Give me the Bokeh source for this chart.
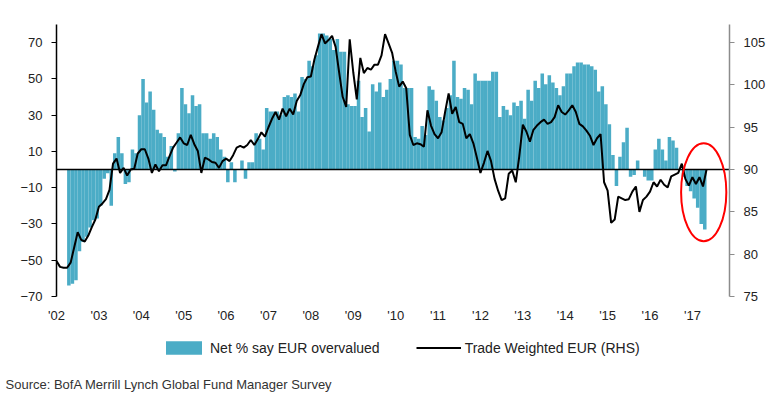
import numpy as np
from bokeh.plotting import figure
from bokeh.models import (Range1d, LinearAxis, FixedTicker, Legend, LegendItem, Label)
from bokeh.embed import file_html
from bokeh.resources import INLINE

# ---------------- data ----------------
year_labels = ["'02", "'03", "'04", "'05", "'06", "'07", "'08", "'09", "'10",
               "'11", "'12", "'13", "'14", "'15", "'16", "'17"]

# Net % say EUR overvalued (monthly, first value = Apr 2002)
bar_start_month = 3
net_overvalued = [
    -64, -63, -61, -45, -40, -37, -32, -28, -27,
    -20, -5, -2, -20, 9, 18, 9, -8, -7, 11, 9, 30,
    50, 37, 43, 33, 22, 20, 18, 7, 13, -1, 20, 45,
    36, 31, 41, 35, 36, 20, 20, 17, 20, 18, 11, 7,
    -7, 4, -7, 0, 5, -5, 4, 4, 20, 17, 11, 34,
    32, 32, 32, 30, 40, 41, 40, 42, 32, 51, 50, 60,
    57, 63, 75, 75, 74, 72, 66, 72, 65, 65, 36, 35,
    35, 49, 29, 34, 21, 47, 43, 48, 40, 44, 50, 60,
    60, 58, 45, 45, 45, 18, 17, 24, 19, 46, 44, 38,
    29, 27, 34, 41, 60, 40, 39, 45, 44, 36, 53, 49,
    49, 49, 49, 54, 54, 29, 35, 33, 30, 37, 35, 38,
    28, 44, 38, 49, 45, 53, 47, 52, 48, 45, 41, 46,
    53, 53, 57, 59, 59, 58, 58, 57, 55, 43, 46, 36,
    25, 8, -9, 7, 15, 23, -4, -3, 5, 0, -4, -6,
    -6, 11, 17, 11, 5, 18, 16, 12, 0, -4, -9, -12,
    -16, -21, -30, -33,
]

# Trade Weighted EUR (RHS), monthly Jan 2002 - May 2017
trade_weighted_eur = [
    79.2, 78.5, 78.4, 78.4, 79.0, 80.8, 82.6, 81.7, 81.5, 82.2, 83.2, 84.1,
    85.6, 86.0, 86.5, 87.6, 90.7, 91.3, 89.6, 90.2, 89.3, 90.0, 90.1, 91.9,
    92.4, 92.4, 91.3, 89.6, 90.6, 89.8, 90.5, 90.5, 91.6, 92.6, 93.2, 93.8,
    93.1, 92.9, 94.1, 93.0, 92.2, 89.6, 91.4, 91.2, 90.9, 90.8, 90.2, 91.0,
    91.3, 91.0, 91.7, 92.6, 92.8, 92.6, 92.9, 93.5, 92.9, 93.6, 94.4, 93.9,
    95.0, 96.0, 96.8, 95.9, 97.2, 96.3, 97.2, 96.5, 98.1, 98.8, 100.1, 100.9,
    101.0, 103.0, 104.5, 106.0, 104.9, 105.3, 105.8, 104.5, 101.5, 98.6, 97.4, 105.4,
    101.5, 98.3, 103.2, 101.4, 102.0, 101.8, 102.4, 102.4, 103.5, 106.0, 104.9, 103.8,
    101.6, 99.8, 100.4, 99.6, 94.1, 92.9, 93.1, 93.0, 92.7, 97.0, 95.2, 94.2,
    93.7, 94.4, 96.8, 99.0, 96.6, 97.4, 95.6, 95.4, 93.7, 94.2, 93.1, 91.4,
    89.6, 90.8, 92.2, 91.0, 88.9, 87.5, 86.4, 86.6, 89.5, 89.9, 88.5, 91.6,
    95.3, 94.5, 93.3, 94.7, 95.2, 95.6, 95.9, 95.4, 95.6, 96.2, 97.6, 96.8,
    96.5, 97.0, 97.6, 96.8, 95.4, 95.1, 94.6, 94.0, 92.9, 93.7, 94.2, 88.5,
    87.5, 83.7, 84.1, 86.8, 86.6, 86.4, 86.5, 87.4, 88.0, 85.0, 86.4, 86.8,
    87.4, 88.5, 88.0, 88.8, 88.2, 87.9, 89.2, 89.4, 89.6, 90.7, 88.9, 88.1,
    89.1, 88.3, 89.1, 88.0, 90.0,
]

left_ticks = [-70, -50, -30, -10, 10, 30, 50, 70]
right_ticks = [75, 80, 85, 90, 95, 100, 105]

# highlight ellipse (annotation) in month index / left-axis units
highlight_center = (183.2, -12.5)
highlight_size = (12.8, 54.0)

BAR_COLOR = "#4BACC6"
FONT = "Liberation Sans"

# ---------------- layout geometry (pixels) ----------------
W, H = 778, 411
PLOT_L, PLOT_R, PLOT_T, PLOT_B = 56, 729, 24, 296   # visible axes box
X0, X1 = 0.0, 190.5          # month index at left / right axis
L0, L1 = -70.0, 80.0         # left axis extent
R0, R1 = 75.0, 75.0 + 150 * 30 / 140   # right axis extent

xpx = (PLOT_R - PLOT_L) / (X1 - X0)
lpx = (PLOT_B - PLOT_T) / (L1 - L0)
rpx = (PLOT_B - PLOT_T) / (R1 - R0)

x_range = Range1d(X0 - PLOT_L / xpx, X1 + (W - PLOT_R) / xpx)
y_range = Range1d(L0 - (H - PLOT_B) / lpx, L1 + PLOT_T / lpx)
rhs_range = Range1d(R0 - (H - PLOT_B) / rpx, R1 + PLOT_T / rpx)

# ---------------- figure ----------------
p = figure(width=W, height=H, output_backend="svg", toolbar_location=None,
           x_range=x_range, y_range=y_range,
           min_border_left=0, min_border_right=0, min_border_top=0,
           min_border_bottom=0)
p.outline_line_color = None
p.xgrid.visible = False
p.ygrid.visible = False
p.background_fill_color = "white"
p.extra_y_ranges = {"rhs": rhs_range}

bx = np.arange(len(net_overvalued)) + bar_start_month + 0.5
bars = p.vbar(x=bx, top=net_overvalued, bottom=0, width=1.0,
              fill_color=BAR_COLOR, line_color=None)

# zero line across the axes box
p.segment(x0=[X0], x1=[X1], y0=[0], y1=[0], line_color="black", line_width=1.5)

lx = np.arange(len(trade_weighted_eur))
line = p.line(x=lx, y=trade_weighted_eur, y_range_name="rhs",
              line_color="black", line_width=2)

p.ellipse(x=[highlight_center[0]], y=[highlight_center[1]],
          width=[highlight_size[0]], height=[highlight_size[1]],
          fill_color=None, line_color="#FF0000", line_width=2)

# left axis
ya = p.yaxis[0]
ya.fixed_location = X0
ya.bounds = (L0, L1)
ya.ticker = FixedTicker(ticks=left_ticks)
ya.axis_line_color = "black"
ya.axis_line_width = 1.5
ya.major_tick_line_color = "black"
ya.major_tick_out = 5
ya.major_tick_in = 0
ya.minor_tick_line_color = None
ya.major_label_standoff = 9
ya.major_label_text_font = FONT
ya.major_label_text_font_size = "13px"
ya.major_label_text_color = "#222222"

# right axis
ra = LinearAxis(y_range_name="rhs", ticker=FixedTicker(ticks=right_ticks))
ra.fixed_location = X1
ra.bounds = (R0, R1)
ra.axis_line_color = "#8C8C8C"
ra.axis_line_width = 1.5
ra.major_tick_line_color = "#8C8C8C"
ra.major_tick_out = 5
ra.major_tick_in = 0
ra.minor_tick_line_color = None
ra.major_label_standoff = 9
ra.major_label_text_font = FONT
ra.major_label_text_font_size = "13px"
ra.major_label_text_color = "#222222"
p.add_layout(ra, "right")

# x axis
xa = p.xaxis[0]
xa.fixed_location = L0
year_ticks = [12 * i for i in range(len(year_labels))]
xa.ticker = FixedTicker(ticks=year_ticks)
xa.major_label_overrides = {t: lab for t, lab in zip(year_ticks, year_labels)}
xa.axis_line_color = None
xa.major_tick_line_color = None
xa.minor_tick_line_color = None
xa.major_label_standoff = 5
xa.major_label_text_font = FONT
xa.major_label_text_font_size = "13px"
xa.major_label_text_color = "#222222"

legend = Legend(items=[LegendItem(label="Net % say EUR overvalued", renderers=[bars]),
                       LegendItem(label="Trade Weighted EUR (RHS)", renderers=[line])],
                orientation="horizontal", location=(161, H - 356),
                border_line_color=None, background_fill_alpha=0,
                glyph_width=45, glyph_height=17, label_standoff=4, spacing=36,
                padding=0, margin=0,
                label_text_font=FONT, label_text_font_size="14px",
                label_text_color="#222222")
p.add_layout(legend, "center")

p.add_layout(Label(x=5, y=H - 384, x_units="screen", y_units="screen",
                   text="Source: BofA Merrill Lynch Global Fund Manager Survey",
                   text_font=FONT, text_font_size="13px", text_baseline="middle",
                   text_color="#333333"))

open("out.html", "w").write(file_html(p, INLINE))
